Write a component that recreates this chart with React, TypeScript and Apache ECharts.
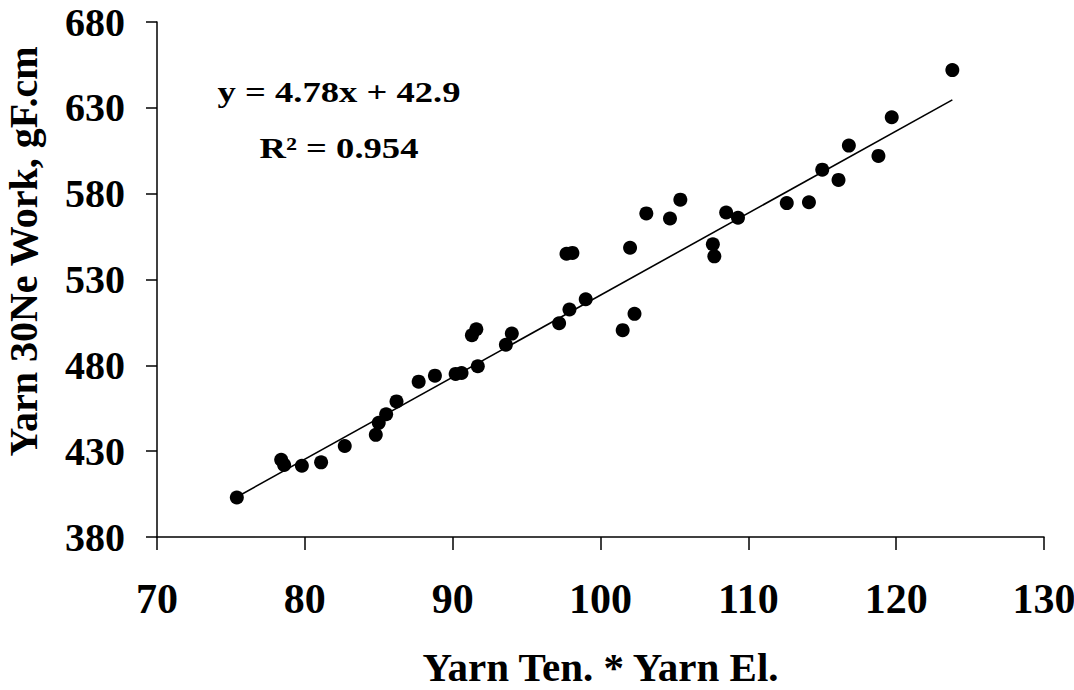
import React, { useEffect, useRef } from "react";
import * as echarts from "echarts";

// Scatter data
const xValues: number[] = [
  75.4, 78.4, 78.6, 79.8, 81.1, 82.7, 84.8, 85.0, 85.5, 86.2,
  87.7, 88.8, 90.2, 90.6, 91.7, 91.3, 91.6, 93.6, 94.0, 97.2,
  97.9, 99.0, 97.7, 98.1, 101.5, 102.3, 102.0, 103.1, 104.7, 105.4,
  107.6, 107.7, 108.5, 109.3, 112.6, 114.1, 115.0, 116.1, 116.8, 118.8,
  119.7, 123.8,
];
const yValues: number[] = [
  403, 425, 422, 421.5, 423.5, 433, 439.5, 446.5, 451.5, 459,
  470.5, 474, 475, 475.5, 479.5, 497.5, 501, 492, 498.5, 504.5,
  512.5, 518.5, 545, 545.5, 500.5, 510, 548.5, 568.5, 565.5, 576.5,
  550.5, 543.5, 569, 566, 574.5, 575, 594, 588, 608, 602,
  624.5, 652,
];

// Trend line (from the chart's equation)
const slope = 4.78;
const intercept = 42.9;
const equationText = "y = 4.78x + 42.9";
const r2Text = "R\u00B2 = 0.954";

const xTicks = { min: 70, max: 130, interval: 10 };
const yTicks = { min: 380, max: 680, interval: 50 };
const xTitle = "Yarn Ten. * Yarn El.";
const yTitle = "Yarn 30Ne Work, gF.cm";

const FONT = "'Liberation Serif', 'Times New Roman', serif";

export default function App() {
  const ref = useRef<HTMLDivElement>(null);

  useEffect(() => {
    if (!ref.current) return;
    const chart = echarts.init(ref.current, null, { renderer: "svg" });
    const points = xValues.map((x, i) => [x, yValues[i]]);
    const xMin = Math.min(...xValues);
    const xMax = Math.max(...xValues);
    const trend = [
      [xMin, slope * xMin + intercept],
      [xMax, slope * xMax + intercept],
    ];

    const textStyle = (text: string) => ({
      text,
      fill: "#000",
      fontSize: 30,
      fontWeight: "bold",
      fontFamily: FONT,
      align: "center",
      verticalAlign: "middle",
      textAlign: "center",
      textVerticalAlign: "middle",
    });

    chart.setOption({
      animation: false,
      backgroundColor: "#fff",
      grid: {
        left: 157,
        right: 30,
        top: 22,
        bottom: 153,
        containLabel: false,
        outerBoundsMode: "none",
      },
      xAxis: {
        type: "value",
        min: xTicks.min,
        max: xTicks.max,
        interval: xTicks.interval,
        name: xTitle,
        nameLocation: "middle",
        nameGap: 109,
        nameTextStyle: { fontSize: 41, fontWeight: "bold", fontFamily: FONT, color: "#000" },
        axisLine: { show: true, lineStyle: { color: "#000", width: 1.5 } },
        axisTick: { show: true, length: 13, lineStyle: { color: "#000", width: 1.5 } },
        axisLabel: { margin: 41, fontSize: 42, fontWeight: "bold", fontFamily: FONT, color: "#000" },
        splitLine: { show: false },
      },
      yAxis: {
        type: "value",
        min: yTicks.min,
        max: yTicks.max,
        interval: yTicks.interval,
        name: yTitle,
        nameLocation: "middle",
        nameRotate: 90,
        nameGap: 114,
        nameTextStyle: {
          fontSize: 40,
          fontWeight: "bold",
          fontFamily: FONT,
          color: "#000",
          padding: [0, 0, 0, 56],
        },
        axisLine: { show: true, lineStyle: { color: "#000", width: 1.5 } },
        axisTick: { show: true, length: 11, lineStyle: { color: "#000", width: 1.5 } },
        axisLabel: { margin: 32, fontSize: 40, fontWeight: "bold", fontFamily: FONT, color: "#000" },
        splitLine: { show: false },
      },
      series: [
        {
          type: "scatter",
          data: points,
          symbol: "circle",
          symbolSize: 14,
          itemStyle: { color: "#000", opacity: 1 },
          z: 3,
        },
        {
          type: "line",
          data: trend,
          symbol: "none",
          lineStyle: { color: "#000", width: 1.6 },
          z: 2,
        },
      ],
      graphic: [
        { type: "text", x: 339, y: 91.6, scaleX: 1.22, style: textStyle(equationText) },
        { type: "text", x: 339, y: 147.2, scaleX: 1.22, style: textStyle(r2Text) },
      ],
    });

    return () => chart.dispose();
  }, []);

  return (
    <div
      ref={ref}
      style={{ position: "fixed", left: 0, top: 0, width: 1074, height: 690, background: "#fff" }}
    />
  );
}
